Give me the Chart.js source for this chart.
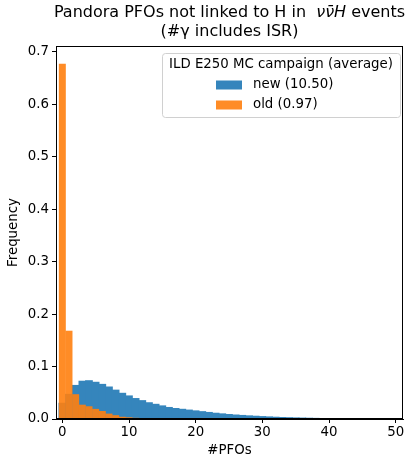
<!DOCTYPE html>
<html>
<head>
<meta charset="utf-8">
<script src="https://cdn.jsdelivr.net/npm/chart.js@4.4.0/dist/chart.umd.min.js"></script>
<style>
  html, body { margin: 0; padding: 0; background: #fff; }
  #wrap { width: 413px; height: 459px; }
</style>
</head>
<body>
<div id="wrap"><canvas id="c" width="413" height="459"></canvas></div>
<script>
// bin centres (#PFOs), normalised frequencies
const bins = Array.from({length: 50}, (_, i) => i);
const newFreq = [0.030, 0.047, 0.064, 0.072, 0.073, 0.070, 0.066, 0.061, 0.055, 0.049,
  0.044, 0.039, 0.035, 0.031, 0.028, 0.025, 0.022, 0.020, 0.0185, 0.017,
  0.0155, 0.014, 0.0125, 0.011, 0.0098, 0.0086, 0.0076, 0.0068, 0.006, 0.0053,
  0.0046, 0.004, 0.0034, 0.0029, 0.0025, 0.0021, 0.0018, 0.0015, 0.0012, 0.001,
  0.0008, 0.0006, 0.0005, 0.0004, 0.0003, 0.0002, 0.0002, 0.0001, 0.0001, 0];
const oldFreq = [0.677, 0.168, 0.047, 0.027, 0.024, 0.019, 0.015, 0.010, 0.007, 0.004,
  0.003, 0.002, 0.0012, 0.0008, 0.0005, 0.0003];
const seriesLabels = ['new (10.50)', 'old (0.97)'];
const legendTitle = 'ILD E250 MC campaign (average)';
const xTicks = [0, 10, 20, 30, 40, 50];
const yTicks = [0, 0.1, 0.2, 0.3, 0.4, 0.5, 0.6, 0.7];

const FONT = '"DejaVu Sans", sans-serif';
const FS = 13.33;
// blue is the alpha-0.9 tab:blue already flattened on white, so its bins can overlap without seams
const BLUE = 'rgb(53,133,188)';
const ORANGE = 'rgba(255,127,14,0.9)';

const toPoints = arr => arr.map((v, i) => ({x: bins[i], y: v}));

// two-line title with the italic process name
const titlePlugin = {
  id: 'mplTitle',
  afterDraw(chart) {
    const ctx = chart.ctx;
    const cx = (chart.chartArea.left + chart.chartArea.right) / 2;
    const parts = [
      ['Pandora PFOs not linked to H in  ', 'normal 16px ' + FONT],
      ['\u03BD\u03BD\u0304H', 'italic 16px ' + FONT],
      [' events', 'normal 16px ' + FONT],
    ];
    ctx.save();
    ctx.fillStyle = '#000';
    ctx.textBaseline = 'middle';
    let total = 0;
    parts.forEach(p => { ctx.font = p[1]; total += ctx.measureText(p[0]).width; });
    let x = cx - total / 2;
    ctx.textAlign = 'left';
    parts.forEach(p => {
      ctx.font = p[1];
      ctx.fillText(p[0], x, 13);
      x += ctx.measureText(p[0]).width;
    });
    ctx.font = 'normal 16px ' + FONT;
    ctx.textAlign = 'center';
    ctx.fillText('(#\u03B3 includes ISR)', cx, 32);
    ctx.restore();
  }
};

// frame round the axes + legend box in the upper right
const framePlugin = {
  id: 'mplFrame',
  afterDatasetsDraw(chart) {
    const {ctx, chartArea: a} = chart;
    ctx.save();
    ctx.strokeStyle = '#000';
    ctx.lineWidth = 1;
    ctx.strokeRect(a.left + 0.5, a.top + 0.5, a.right - a.left - 1, a.bottom - a.top - 1);

    const w = 238, h = 64;
    const bx = a.right - 3 - w, by = a.top + 7;
    ctx.beginPath();
    ctx.roundRect(bx + 0.5, by + 0.5, w, h, 3);
    ctx.fillStyle = 'rgba(255,255,255,0.8)';
    ctx.fill();
    ctx.strokeStyle = '#d0d0d0';
    ctx.stroke();

    ctx.fillStyle = '#000';
    ctx.font = FS + 'px ' + FONT;
    ctx.textBaseline = 'middle';
    ctx.textAlign = 'center';
    ctx.fillText(legendTitle, bx + w / 2, by + 12);
    ctx.textAlign = 'left';
    const colors = [BLUE, ORANGE];
    seriesLabels.forEach((lab, i) => {
      const ly = by + 32 + i * 20;
      ctx.fillStyle = colors[i];
      ctx.fillRect(bx + 54, ly - 4.5, 26, 9);
      ctx.fillStyle = '#000';
      ctx.fillText(lab, bx + 91, ly);
    });
    ctx.restore();
  }
};

new Chart(document.getElementById('c'), {
  type: 'bar',
  data: {
    datasets: [
      {label: seriesLabels[0], data: toPoints(newFreq), backgroundColor: BLUE, order: 1, inflateAmount: 0.5},
      {label: seriesLabels[1], data: toPoints(oldFreq), backgroundColor: ORANGE, order: 0, inflateAmount: 0.15},
    ]
  },
  options: {
    responsive: false,
    animation: false,
    layout: {padding: {top: 46, right: 10, left: 0, bottom: 0}},
    datasets: {
      bar: {grouped: false, barPercentage: 1, categoryPercentage: 1, borderWidth: 0}
    },
    plugins: {
      legend: {display: false},
      tooltip: {enabled: false},
    },
    scales: {
      x: {
        type: 'linear',
        offset: false,
        min: -0.95,
        max: 51.1,
        afterBuildTicks: s => { s.ticks = xTicks.map(v => ({value: v})); },
        afterFit: s => { s.height = 40; },
        grid: {offset: false, drawOnChartArea: false, tickLength: 4, color: '#000', tickColor: '#000'},
        border: {color: '#000'},
        ticks: {color: '#000', font: {family: FONT, size: FS}, padding: 2, maxRotation: 0},
        title: {display: true, text: '#PFOs', color: '#000', font: {family: FONT, size: FS}, padding: {top: 0, bottom: 0}},
      },
      y: {
        min: 0,
        max: 0.711,
        afterBuildTicks: s => { s.ticks = yTicks.map(v => ({value: v})); },
        afterFit: s => { s.width = 56; },
        grid: {drawOnChartArea: false, tickLength: 4, color: '#000', tickColor: '#000'},
        border: {color: '#000'},
        ticks: {color: '#000', font: {family: FONT, size: FS}, padding: 3, callback: v => v.toFixed(1)},
        title: {display: true, text: 'Frequency', color: '#000', font: {family: FONT, size: FS}, padding: {top: 6, bottom: 0}},
      }
    }
  },
  plugins: [titlePlugin, framePlugin]
});
</script>
</body>
</html>
